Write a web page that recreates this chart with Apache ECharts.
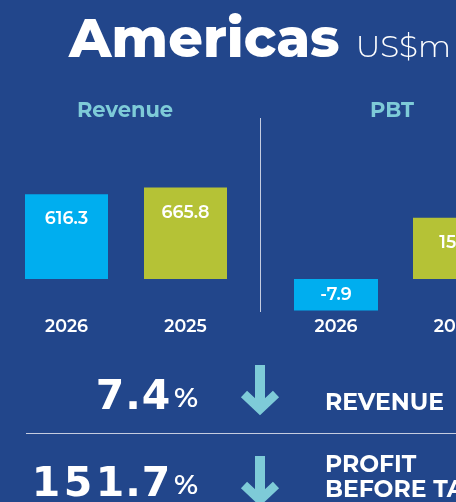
<!DOCTYPE html>
<html>
<head>
<meta charset="utf-8">
<script src="https://cdn.jsdelivr.net/npm/echarts@6/dist/echarts.min.js"></script>
<style>
  html, body { margin: 0; padding: 0; background: #22468b; }
  #chart { width: 456px; height: 502px; }
</style>
</head>
<body>
<div id="chart"></div>
<script>
// data
const years = ['2026', '2025']
const revenue = [616.3, 665.8]
const pbt = [-7.9, 15.3]
const revenueChange = '7.4'
const pbtChange = '151.7'

const blue = '#00aeef'
const green = '#b5c236'
const teal = '#7ecbd8'
const font = 'Montserrat, "Open Sans", sans-serif'

const chart = echarts.init(document.getElementById('chart'))

function arrow(cx, top, tip) {
  return [
    { type: 'polyline', shape: { points: [[cx, top], [cx, tip - 4]] }, style: { stroke: teal, lineWidth: 10, fill: null } },
    { type: 'polyline', shape: { points: [[cx - 16, tip - 17], [cx, tip - 2], [cx + 16, tip - 17]] }, style: { stroke: teal, lineWidth: 9, fill: null, lineJoin: 'miter' } }
  ]
}

// big spaced percentage text, one fixed-width rich token per character
function pct(num) {
  const rich = { p: { fontSize: 28, fontWeight: 600, fill: '#fff', fontFamily: font, width: 26, align: 'right' } }
  let text = ''
  num.split('').forEach((ch, i) => {
    rich['c' + i] = {
      fontSize: 41, fontWeight: 'bold', fill: '#fff', fontFamily: '"DejaVu Sans"',
      width: ch === '.' ? 14 : 32, align: 'center'
    }
    text += '{c' + i + '|' + ch + '}'
  })
  return { text: text + '{p|%}', rich }
}

const labelStyle = { color: '#fff', fontSize: 17.5, fontWeight: 600, fontFamily: font }

const option = {
  backgroundColor: '#22468b',
  animation: false,
  grid: [
    { left: 7, right: 211, top: 169, height: 110, outerBoundsMode: 'none' },
    { left: 276.5, right: -58.5, top: 199, height: 120, outerBoundsMode: 'none' }
  ],
  xAxis: [
    {
      gridIndex: 0, type: 'category', data: years,
      axisLine: { show: false }, axisTick: { show: false },
      axisLabel: Object.assign({ margin: 39 }, labelStyle)
    },
    {
      gridIndex: 1, type: 'category', data: years,
      axisLine: { show: false, onZero: false }, axisTick: { show: false },
      axisLabel: Object.assign({ margin: -1 }, labelStyle)
    }
  ],
  yAxis: [
    { gridIndex: 0, type: 'value', min: 0, max: 800, show: false, splitLine: { show: false } },
    { gridIndex: 1, type: 'value', min: -10, max: 20, show: false, splitLine: { show: false } }
  ],
  series: [
    {
      type: 'bar', xAxisIndex: 0, yAxisIndex: 0, barWidth: 83,
      data: revenue.map((v, i) => ({ value: v, itemStyle: { color: i === 0 ? blue : green } })),
      label: Object.assign({ show: true, position: 'insideTop', distance: 16 }, labelStyle)
    },
    {
      type: 'bar', xAxisIndex: 1, yAxisIndex: 1, barWidth: 84,
      data: pbt.map((v, i) => ({
        value: v,
        itemStyle: { color: i === 0 ? blue : green },
        label: v < 0 ? { position: 'inside' } : undefined
      })),
      label: Object.assign({ show: true, position: 'insideTop', distance: 16 }, labelStyle)
    }
  ],
  graphic: [
    {
      type: 'text', left: 69, top: 14,
      style: {
        text: '{a|Americas}{b|US$m}',
        rich: {
          a: { fontSize: 54, fontWeight: 800, fill: '#fff', fontFamily: font, padding: [0, 16, 0, 0] },
          b: { fontSize: 31, fontWeight: 300, fill: '#fff', fontFamily: font, padding: [14, 0, 0, 0] }
        }
      }
    },
    { type: 'text', x: 125, y: 111, style: { text: 'Revenue', fill: teal, fontSize: 21, fontWeight: 'bold', fontFamily: font, align: 'center', verticalAlign: 'middle' } },
    { type: 'text', x: 392, y: 111, style: { text: 'PBT', fill: teal, fontSize: 21, fontWeight: 'bold', fontFamily: font, align: 'center', verticalAlign: 'middle' } },
    { type: 'line', shape: { x1: 260.5, y1: 118, x2: 260.5, y2: 312 }, style: { stroke: '#c5cce0', lineWidth: 1 } },
    { type: 'line', shape: { x1: 26, y1: 433.5, x2: 456, y2: 433.5 }, style: { stroke: '#c5cce0', lineWidth: 1 } },
    { type: 'text', x: 198, y: 419, style: Object.assign({ align: 'right', verticalAlign: 'bottom' }, pct(revenueChange)) },
    { type: 'text', x: 198, y: 506, style: Object.assign({ align: 'right', verticalAlign: 'bottom' }, pct(pbtChange)) },
    { type: 'text', x: 325, y: 403, style: { text: 'REVENUE', fill: '#fff', fontSize: 23.5, fontWeight: 'bold', fontFamily: font, verticalAlign: 'middle' } },
    { type: 'text', x: 325, y: 465, style: { text: 'PROFIT', fill: '#fff', fontSize: 23.5, fontWeight: 'bold', fontFamily: font, verticalAlign: 'middle' } },
    { type: 'text', x: 325, y: 490, style: { text: 'BEFORE TAX', fill: '#fff', fontSize: 23.5, fontWeight: 'bold', fontFamily: font, verticalAlign: 'middle' } },
    ...arrow(260, 365, 411),
    ...arrow(260, 456, 502)
  ]
}

chart.setOption(option)
window.addEventListener('resize', () => chart.resize())
</script>
</body>
</html>
